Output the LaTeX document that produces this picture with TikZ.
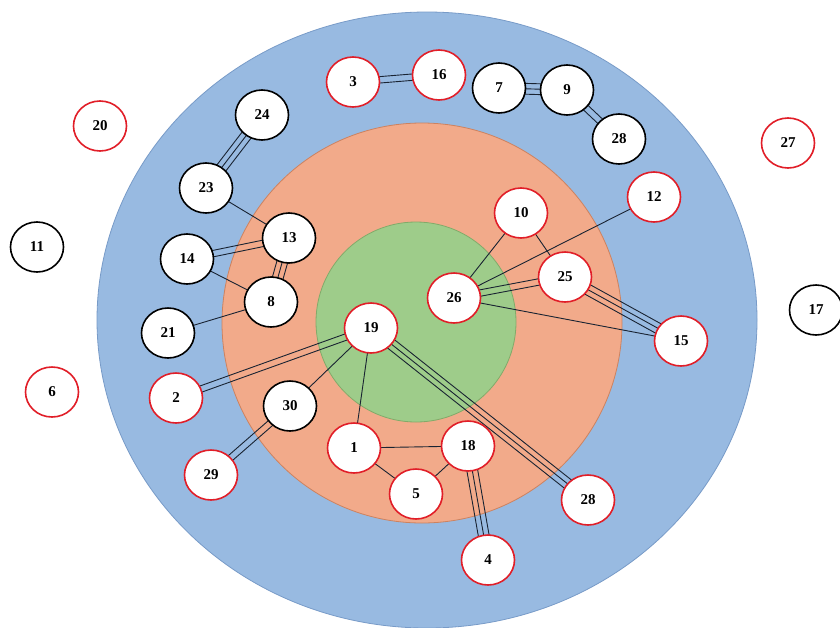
\documentclass[tikz,border=0pt]{standalone}
\usepackage{fontspec}
\setmainfont{Liberation Serif}
\usetikzlibrary{calc,shapes.geometric}
\pgfdeclarelayer{bg}
\pgfdeclarelayer{edges}
\pgfsetlayers{bg,edges,main}
\definecolor{ringblue}{RGB}{152,186,225}
\definecolor{ringblueline}{RGB}{120,155,200}
\definecolor{ringorange}{RGB}{242,170,138}
\definecolor{ringorangeline}{RGB}{205,130,95}
\definecolor{ringgreen}{RGB}{158,204,138}
\definecolor{ringgreenline}{RGB}{130,170,105}
\definecolor{nred}{RGB}{225,30,40}
\definecolor{edgecol}{RGB}{25,35,50}
\tikzset{
  vtx/.style={ellipse, minimum width=53pt, minimum height=50pt, inner sep=0pt, fill=white, line width=1.6pt,
    font=\fontsize{15}{15}\selectfont\bfseries},
  rv/.style={vtx, draw=nred},
  bv/.style={vtx, draw=black},
  edge/.style={draw=edgecol, line width=0.9pt}
}
\newcommand{\eone}[2]{\draw[edge] (#1.center) -- (#2.center);}
\newcommand{\eoff}[3]{\draw[edge] ($(#1.center)!#3!90:(#2.center)$) -- ($(#2.center)!#3!-90:(#1.center)$);}
\newcommand{\etwo}[2]{\eoff{#1}{#2}{3.2pt}\eoff{#1}{#2}{-3.2pt}}
\newcommand{\ethree}[2]{\eoff{#1}{#2}{5.4pt}\eone{#1}{#2}\eoff{#1}{#2}{-5.4pt}}
\begin{document}
\begin{tikzpicture}[x=1pt,y=-1pt]
\useasboundingbox (0,0) rectangle (840,627);
\begin{pgfonlayer}{bg}
  \fill[white] (0,0) rectangle (840,627);
  \begin{scope}
    \clip (0,0) rectangle (840,627);
    \draw[fill=ringblue, draw=ringblueline, line width=0.8pt] (427,320) ellipse [x radius=330, y radius=308];
  \end{scope}
  \draw[fill=ringorange, draw=ringorangeline, line width=0.8pt] (422,323) circle [radius=200];
  \draw[fill=ringgreen, draw=ringgreenline, line width=0.8pt] (416,322) circle [radius=100];
\end{pgfonlayer}

\node[rv] (n3) at (353,82) {3};
\node[rv] (n16) at (439,75) {16};
\node[bv] (n7) at (499,88) {7};
\node[bv] (n9) at (567,90) {9};
\node[bv] (n28t) at (619,139) {28};
\node[bv] (n24) at (262,115) {24};
\node[rv] (n20) at (100,126) {20};
\node[rv] (n27) at (788,143) {27};
\node[bv] (n23) at (206,188) {23};
\node[bv] (n13) at (289,238) {13};
\node[bv] (n14) at (187,259) {14};
\node[bv] (n11) at (37,247) {11};
\node[bv] (n8) at (271,302) {8};
\node[bv] (n21) at (168,333) {21};
\node[rv] (n6) at (52,392) {6};
\node[rv] (n2) at (176,398) {2};
\node[bv] (n30) at (290,406) {30};
\node[rv] (n29) at (211,475) {29};
\node[rv] (n19) at (371,328) {19};
\node[rv] (n1) at (354,448) {1};
\node[rv] (n18) at (468,446) {18};
\node[rv] (n5) at (416,494) {5};
\node[rv] (n4) at (488,560) {4};
\node[rv] (n28b) at (588,500) {28};
\node[rv] (n10) at (521,213) {10};
\node[rv] (n12) at (654,197) {12};
\node[rv] (n25) at (565,277) {25};
\node[rv] (n26) at (454,298) {26};
\node[rv] (n15) at (681,341) {15};
\node[bv] (n17) at (816,310) {17};

\begin{pgfonlayer}{edges}
  \etwo{n3}{n16}
  \ethree{n7}{n9}
  \etwo{n9}{n28t}
  \ethree{n24}{n23}
  \eone{n23}{n13}
  \etwo{n14}{n13}
  \eone{n14}{n8}
  \ethree{n13}{n8}
  \eone{n21}{n8}
  \etwo{n2}{n19}
  \eone{n30}{n19}
  \etwo{n30}{n29}
  \eone{n19}{n1}
  \ethree{n19}{n28b}
  \eone{n1}{n18}
  \eone{n1}{n5}
  \eone{n5}{n18}
  \ethree{n18}{n4}
  \eone{n10}{n26}
  \eone{n10}{n25}
  \eone{n12}{n26}
  \etwo{n26}{n25}
  \eone{n26}{n15}
  \ethree{n25}{n15}
\end{pgfonlayer}
\end{tikzpicture}
\end{document}
